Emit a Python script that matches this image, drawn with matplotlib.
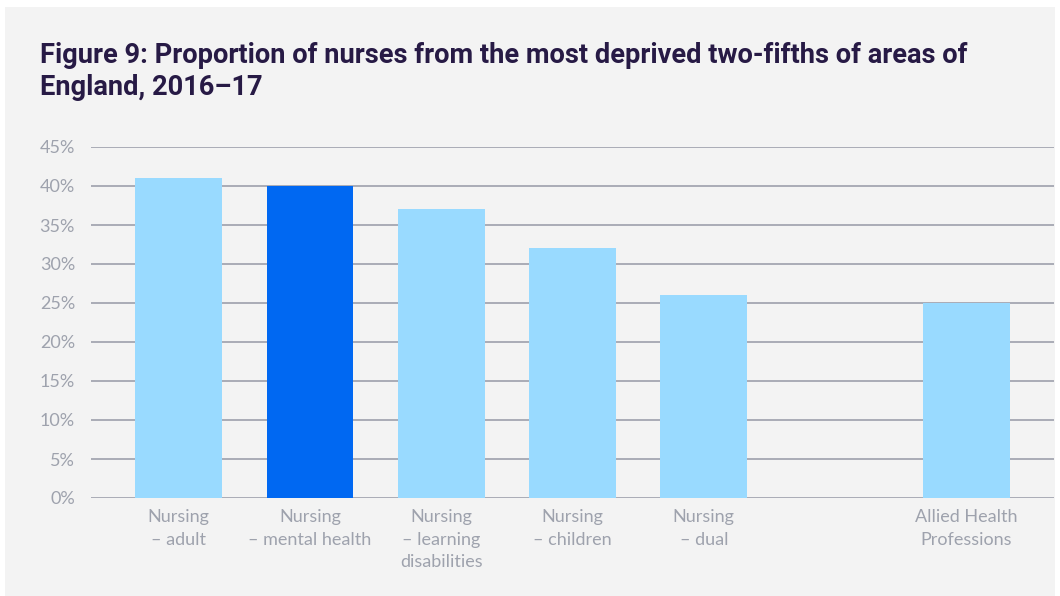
import matplotlib.pyplot as plt
from matplotlib.patches import Rectangle

# Data
categories = ['Nursing\n\u2013 adult', 'Nursing\n\u2013 mental health',
              'Nursing\n\u2013 learning\ndisabilities', 'Nursing\n\u2013 children',
              'Nursing\n\u2013 dual', '', 'Allied Health\nProfessions']
values = [41, 40, 37, 32, 26, None, 25]
highlight = 'Nursing\n\u2013 mental health'
y_ticks = [0, 5, 10, 15, 20, 25, 30, 35, 40, 45]

light_blue = '#99daff'
dark_blue = '#0068f2'
grid_col = '#a9acb6'
label_col = '#9ea2ad'

fig = plt.figure(figsize=(10.6, 5.96), dpi=100, facecolor='white')
# grey panel behind everything
fig.patches.append(Rectangle((5 / 1060, 0), 1050 / 1060, 589 / 596,
                             transform=fig.transFigure, facecolor='#f3f3f3',
                             edgecolor='none', zorder=-5))

ax = fig.add_axes([91 / 1060, 1 - 498 / 596, 963 / 1060, 351 / 596])
ax.set_facecolor('none')
ax.set_zorder(2)

xs = list(range(len(categories)))
for x, cat, v in zip(xs, categories, values):
    if v is None:
        continue
    ax.bar(x, v, width=0.66, color=dark_blue if cat == highlight else light_blue,
           zorder=3)

ax.set_xlim(-0.667, 6.667)
ax.set_ylim(0, 45)
ax.set_yticks(y_ticks)
ax.set_yticklabels([f'{t}%' for t in y_ticks])
ax.set_xticks(xs)
ax.set_xticklabels(categories)
ax.yaxis.grid(True, color=grid_col, linewidth=1.4, zorder=1)
ax.set_axisbelow(True)
for s in ax.spines.values():
    s.set_visible(False)
ax.tick_params(axis='both', length=0, colors=label_col, labelsize=13)
ax.tick_params(axis='y', pad=11.5)
ax.tick_params(axis='x', pad=8)
for lab in ax.get_xticklabels() + ax.get_yticklabels():
    lab.set_fontfamily('Lato')
for lab in ax.get_xticklabels():
    lab.set_linespacing(1.5)

fig.text(40 / 1060, 1 - 42 / 596,
         'Figure 9: Proportion of nurses from the most deprived two-fifths of areas of\nEngland, 2016\u201317',
         fontsize=19.6, fontweight='bold', family='Roboto', color='#271a45',
         va='top', ha='left', linespacing=1.22)

fig.savefig('out.png', dpi=100, facecolor='white')
